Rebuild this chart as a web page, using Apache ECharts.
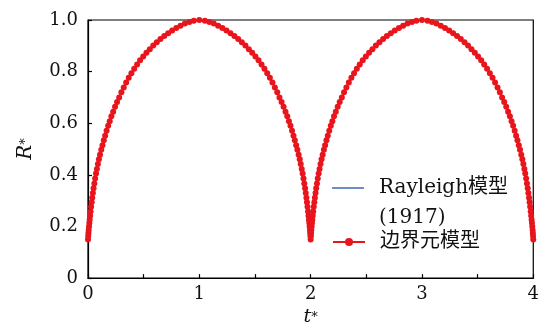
<!DOCTYPE html>
<html>
<head>
<meta charset="utf-8">
<script src="https://cdn.jsdelivr.net/npm/echarts@6/dist/echarts.min.js"></script>
<style>
  html, body { margin: 0; padding: 0; background: #fff; }
  #chart { width: 542px; height: 332px; }
</style>
</head>
<body>
<div id="chart"></div>
<script>
// axis ticks
const xTicks = [0, 1, 2, 3, 4];
const yTicks = [0, 0.2, 0.4, 0.6, 0.8, 1.0];

// 边界元模型, [t*, R*]
const bemCycle1 = [
  [0.000, 0.150], [0.002, 0.163], [0.004, 0.175], [0.006, 0.186], [0.009, 0.200],
  [0.012, 0.213], [0.015, 0.226], [0.019, 0.242], [0.023, 0.258], [0.028, 0.276],
  [0.033, 0.294], [0.038, 0.311], [0.044, 0.330], [0.050, 0.348], [0.057, 0.367],
  [0.064, 0.386], [0.072, 0.405], [0.080, 0.423], [0.089, 0.442], [0.098, 0.460],
  [0.108, 0.478], [0.119, 0.497], [0.130, 0.515], [0.142, 0.534], [0.154, 0.552],
  [0.167, 0.571], [0.181, 0.590], [0.195, 0.608], [0.210, 0.627], [0.226, 0.645],
  [0.243, 0.664], [0.261, 0.682], [0.280, 0.700], [0.300, 0.720], [0.321, 0.738],
  [0.343, 0.758], [0.366, 0.776], [0.390, 0.794], [0.415, 0.811], [0.441, 0.828],
  [0.468, 0.844], [0.496, 0.859], [0.525, 0.873], [0.555, 0.887], [0.586, 0.901],
  [0.618, 0.914], [0.651, 0.926], [0.685, 0.938], [0.720, 0.949], [0.756, 0.959],
  [0.793, 0.969], [0.831, 0.978], [0.870, 0.986], [0.910, 0.992], [0.950, 0.997],
  [1.000, 1.000],
  [1.050, 0.997], [1.090, 0.992], [1.130, 0.986], [1.169, 0.978], [1.207, 0.969],
  [1.244, 0.959], [1.280, 0.949], [1.315, 0.938], [1.349, 0.926], [1.382, 0.914],
  [1.414, 0.901], [1.445, 0.887], [1.475, 0.873], [1.504, 0.859], [1.532, 0.844],
  [1.559, 0.828], [1.585, 0.811], [1.610, 0.794], [1.634, 0.776], [1.657, 0.758],
  [1.679, 0.738], [1.700, 0.720], [1.720, 0.700], [1.739, 0.682], [1.757, 0.664],
  [1.774, 0.645], [1.790, 0.627], [1.805, 0.608], [1.819, 0.590], [1.833, 0.571],
  [1.846, 0.552], [1.858, 0.534], [1.870, 0.515], [1.881, 0.497], [1.892, 0.478],
  [1.902, 0.460], [1.911, 0.442], [1.920, 0.423], [1.928, 0.405], [1.936, 0.386],
  [1.943, 0.367], [1.950, 0.348], [1.956, 0.330], [1.962, 0.311], [1.967, 0.294],
  [1.972, 0.276], [1.977, 0.258], [1.981, 0.242], [1.985, 0.226], [1.988, 0.213],
  [1.991, 0.200], [1.994, 0.186], [1.996, 0.175], [1.998, 0.163], [2.000, 0.150]
];
const bemCycle2 = [
  [2.002, 0.163], [2.004, 0.175], [2.006, 0.186], [2.009, 0.200],
  [2.012, 0.213], [2.015, 0.226], [2.019, 0.242], [2.023, 0.258], [2.028, 0.276],
  [2.033, 0.294], [2.038, 0.311], [2.044, 0.330], [2.050, 0.348], [2.057, 0.367],
  [2.064, 0.386], [2.072, 0.405], [2.080, 0.423], [2.089, 0.442], [2.098, 0.460],
  [2.108, 0.478], [2.119, 0.497], [2.130, 0.515], [2.142, 0.534], [2.154, 0.552],
  [2.167, 0.571], [2.181, 0.590], [2.195, 0.608], [2.210, 0.627], [2.226, 0.645],
  [2.243, 0.664], [2.261, 0.682], [2.280, 0.700], [2.300, 0.720], [2.321, 0.738],
  [2.343, 0.758], [2.366, 0.776], [2.390, 0.794], [2.415, 0.811], [2.441, 0.828],
  [2.468, 0.844], [2.496, 0.859], [2.525, 0.873], [2.555, 0.887], [2.586, 0.901],
  [2.618, 0.914], [2.651, 0.926], [2.685, 0.938], [2.720, 0.949], [2.756, 0.959],
  [2.793, 0.969], [2.831, 0.978], [2.870, 0.986], [2.910, 0.992], [2.950, 0.997],
  [3.000, 1.000],
  [3.050, 0.997], [3.090, 0.992], [3.130, 0.986], [3.169, 0.978], [3.207, 0.969],
  [3.244, 0.959], [3.280, 0.949], [3.315, 0.938], [3.349, 0.926], [3.382, 0.914],
  [3.414, 0.901], [3.445, 0.887], [3.475, 0.873], [3.504, 0.859], [3.532, 0.844],
  [3.559, 0.828], [3.585, 0.811], [3.610, 0.794], [3.634, 0.776], [3.657, 0.758],
  [3.679, 0.738], [3.700, 0.720], [3.720, 0.700], [3.739, 0.682], [3.757, 0.664],
  [3.774, 0.645], [3.790, 0.627], [3.805, 0.608], [3.819, 0.590], [3.833, 0.571],
  [3.846, 0.552], [3.858, 0.534], [3.870, 0.515], [3.881, 0.497], [3.892, 0.478],
  [3.902, 0.460], [3.911, 0.442], [3.920, 0.423], [3.928, 0.405], [3.936, 0.386],
  [3.943, 0.367], [3.950, 0.348], [3.956, 0.330], [3.962, 0.311], [3.967, 0.294],
  [3.972, 0.276], [3.977, 0.258], [3.981, 0.242], [3.985, 0.226], [3.988, 0.213],
  [3.991, 0.200], [3.994, 0.186], [3.996, 0.175], [3.998, 0.163], [4.000, 0.150]
];

// Rayleigh模型 (1917), [t*, R*]
const rayleigh = [
  [0.00, 0.150], [0.01, 0.212], [0.03, 0.300], [0.06, 0.380], [0.10, 0.468],
  [0.15, 0.551], [0.20, 0.618], [0.30, 0.724], [0.40, 0.804], [0.50, 0.864],
  [0.60, 0.909], [0.70, 0.945], [0.80, 0.972], [0.90, 0.991], [1.00, 1.000],
  [1.10, 0.991], [1.20, 0.972], [1.30, 0.945], [1.40, 0.909], [1.50, 0.864],
  [1.60, 0.804], [1.70, 0.724], [1.80, 0.618], [1.85, 0.551], [1.90, 0.468],
  [1.94, 0.380], [1.97, 0.300], [1.99, 0.212], [2.00, 0.150],
  [2.01, 0.212], [2.03, 0.300], [2.06, 0.380], [2.10, 0.468],
  [2.15, 0.551], [2.20, 0.618], [2.30, 0.724], [2.40, 0.804], [2.50, 0.864],
  [2.60, 0.909], [2.70, 0.945], [2.80, 0.972], [2.90, 0.991], [3.00, 1.000],
  [3.10, 0.991], [3.20, 0.972], [3.30, 0.945], [3.40, 0.909], [3.50, 0.864],
  [3.60, 0.804], [3.70, 0.724], [3.80, 0.618], [3.85, 0.551], [3.90, 0.468],
  [3.94, 0.380], [3.97, 0.300], [3.99, 0.212], [4.00, 0.150]
];

const fontFamily = '"DejaVu Serif", "Noto Sans CJK SC", serif';
const legendRich = {
  t: { fontFamily, fontSize: 20, color: '#111', lineHeight: 30, padding: [0, 0, 0, 10] }
};
const chart = echarts.init(document.getElementById('chart'));

const option = {
  animation: false,
  grid: {
    left: 88, right: 5, top: 20, bottom: 52,
    show: true, borderColor: '#000', borderWidth: 1.2
  },
  legend: [
    {
      orient: 'vertical', left: 332, top: 143, padding: 0,
      itemWidth: 32, itemHeight: 1.4,
      data: [{ name: 'Rayleigh模型(1917)', icon: 'rect' }],
      // blank first line keeps the icon level with the first text line
      formatter: () => '{t| }\n{t|Rayleigh模型}\n{t|(1917)}',
      textStyle: { fontFamily, fontSize: 20, lineHeight: 30, rich: legendRich }
    },
    {
      orient: 'vertical', left: 332, top: 227, padding: 0,
      itemWidth: 32, itemHeight: 10,
      data: ['边界元模型'],
      formatter: name => '{t|' + name + '}',
      textStyle: { fontFamily, fontSize: 20, lineHeight: 30, rich: legendRich }
    }
  ],
  xAxis: {
    type: 'value', min: xTicks[0], max: xTicks[xTicks.length - 1], interval: 0.5,
    name: '{i|t}{s|*}', nameLocation: 'middle', nameGap: 29,
    nameTextStyle: {
      rich: {
        i: { fontFamily, fontStyle: 'italic', fontSize: 19, color: '#111' },
        s: { fontFamily, fontSize: 13, color: '#111' }
      }
    },
    axisLine: { lineStyle: { color: '#000', width: 1.2 } },
    axisTick: { inside: true, length: 4, lineStyle: { color: '#000', width: 1.2 } },
    axisLabel: {
      fontFamily, fontSize: 18, color: '#111', margin: 7,
      formatter: v => (xTicks.indexOf(v) >= 0 ? String(v) : '')
    },
    splitLine: { show: false }
  },
  yAxis: {
    type: 'value', min: yTicks[0], max: yTicks[yTicks.length - 1], interval: 0.2,
    name: '{i|R}{s|*}', nameLocation: 'middle', nameGap: 52, nameRotate: 90,
    nameTextStyle: {
      rich: {
        i: { fontFamily, fontStyle: 'italic', fontSize: 20, color: '#111' },
        s: { fontFamily, fontSize: 13, color: '#111' }
      }
    },
    axisLine: { lineStyle: { color: '#000', width: 1.2 } },
    axisTick: { inside: true, length: 4, lineStyle: { color: '#000', width: 1.2 } },
    axisLabel: {
      fontFamily, fontSize: 18, color: '#111', margin: 10,
      formatter: v => (v === 0 ? '0' : v.toFixed(1))
    },
    splitLine: { show: false }
  },
  series: [
    {
      name: 'Rayleigh模型(1917)', type: 'line', data: rayleigh,
      symbol: 'none', clip: false, z: 2,
      lineStyle: { color: '#2f5bb0', width: 1.2 },
      itemStyle: { color: '#2f5bb0' }
    },
    {
      name: '边界元模型', type: 'line', data: bemCycle1.concat(bemCycle2),
      symbol: 'circle', symbolSize: 6, clip: false, z: 3,
      lineStyle: { color: '#e8151d', width: 1.6 },
      itemStyle: { color: '#e8151d' }
    }
  ]
};
chart.setOption(option);
</script>
</body>
</html>
